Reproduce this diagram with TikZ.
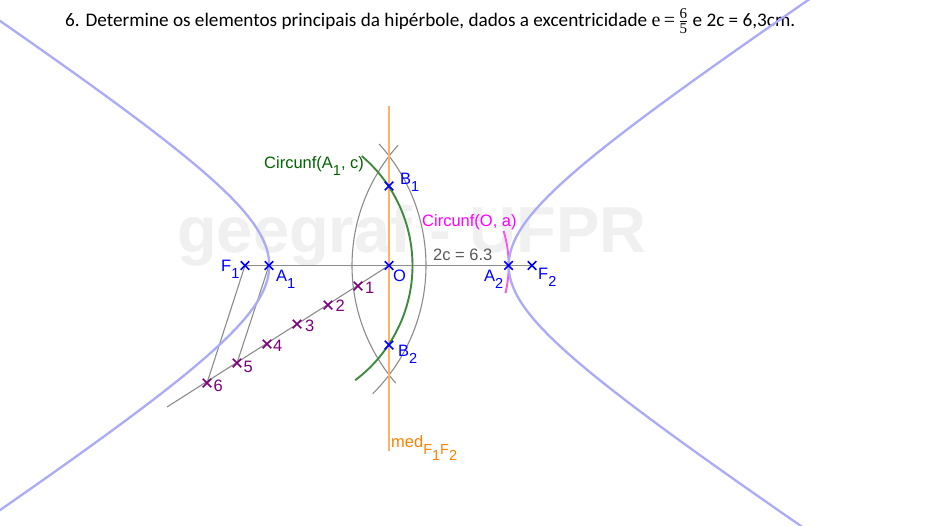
\documentclass[tikz,border=0pt]{standalone}
\usepackage{fontspec}
\setmainfont{Carlito}
\newfontfamily\geo{Liberation Sans}
\newfontfamily\mth{Liberation Serif}
\usetikzlibrary{shapes.misc}
\definecolor{hypc}{HTML}{ABABF7}
\definecolor{orangec}{HTML}{FFB266}
\definecolor{orangetx}{HTML}{FF8000}
\definecolor{greenc}{HTML}{3F8A3F}
\definecolor{greentx}{HTML}{006400}
\definecolor{grayc}{HTML}{8C8C8C}
\definecolor{purplec}{HTML}{7F007F}
\definecolor{markc}{HTML}{F0F0F0}
\definecolor{magtx}{HTML}{FF00FF}
\definecolor{magln}{HTML}{FF55EE}
\newcommand{\lsub}[1]{\raisebox{-0.43em}{\fontsize{14.5}{14.5}\selectfont #1}}
\newcommand{\fracdig}[1]{\mbox{\mth\fontsize{15}{15}\selectfont\rule[-2pt]{0pt}{12pt}#1}}
\tikzset{
 ptblue/.style={cross out,draw=blue,line width=1.6pt,minimum size=8.5pt,inner sep=0pt,outer sep=0pt},
 ptpurple/.style={cross out,draw=purplec,line width=1.5pt,minimum size=8.5pt,inner sep=0pt,outer sep=0pt},
 lbl/.style={font=\geo\fontsize{16.5}{16.5}\selectfont,inner sep=0pt,anchor=base west},
 lblblue/.style={lbl,text=blue},
 lblpurple/.style={lbl,text=purplec},
 hyp/.style={hypc,line width=2.3pt,smooth},
 garc/.style={grayc,line width=1.1pt,smooth},
 gline/.style={grayc,line width=1.1pt},
}
\begin{document}
\begin{tikzpicture}[x=1pt,y=-1pt]
\useasboundingbox (0,0) rectangle (950,525);
\clip (0,0) rectangle (950,525);
\fill[white] (0,0) rectangle (950,525);
% watermark
\node[font=\geo\bfseries\fontsize{65}{65}\selectfont,text=markc,inner sep=0pt,anchor=base west] (wm) at (177,252) {geegraf - UFPR};
% title
\node[font=\fontsize{19.2}{20}\selectfont,inner sep=0pt,anchor=base west] (title) at (65,26) {6. Determine os elementos principais da hipérbole, dados a excentricidade {\mth\fontsize{20}{20}\selectfont e\,=\,}\raisebox{-0.02em}{${\fracdig{6}\above0.5pt\fracdig{5}}$} e 2c = 6,3cm.};
% points
\coordinate (F1) at (245,265.5);
\coordinate (A1) at (269,265.5);
\coordinate (O) at (389,265.5);
\coordinate (A2) at (508.5,265.5);
\coordinate (F2) at (532,265.5);
\coordinate (B1) at (389,186);
\coordinate (B2) at (389,345);
\coordinate (P1) at (358,286);
\coordinate (P2) at (328,305);
\coordinate (P3) at (297,324);
\coordinate (P4) at (267,344);
\coordinate (P5) at (237,363);
\coordinate (P6) at (207,383);
\coordinate (Oend) at (167,407);
\coordinate (medT) at (389,106);
\coordinate (medB) at (389,451);
% lines
\draw[gline] (F1) -- (F2);
\draw[gline] (O) -- (Oend);
\draw[gline] (F1) -- (P6);
\draw[gline] (A1) -- (P5);
% arcs
\draw[garc] plot[domain=139.2:222,samples=50,variable=\a] ({532+180*cos(\a)},{265.5+180*sin(\a)});
\draw[garc] plot[domain=-42.2:45.1,samples=50,variable=\a] ({245+181*cos(\a)},{265.5+181*sin(\a)});
\draw[orangec,line width=2.4pt] (medT) -- (medB);
\draw[greenc,line width=1.9pt,smooth] plot[domain=-49.7:53.1,samples=50,variable=\a] ({269+143.5*cos(\a)},{265.5+143.5*sin(\a)});
\draw[magln,line width=1.9pt,smooth] plot[domain=-16.8:13.3,samples=20,variable=\a] ({389+119.7*cos(\a)},{265.5+119.7*sin(\a)});
% hyperbola
\draw[hyp] plot[domain=-2:2,samples=100,variable=\t] ({389+119.7*0.5*(exp(\t)+exp(-\t))},{265.5+79.1*0.5*(exp(\t)-exp(-\t))});
\draw[hyp] plot[domain=-2:2,samples=100,variable=\t] ({389-119.7*0.5*(exp(\t)+exp(-\t))},{265.5+79.1*0.5*(exp(\t)-exp(-\t))});
% marks above lines
\foreach \p in {F1,A1,O,A2,F2,B1,B2} \node[ptblue] (m\p) at (\p) {};
\foreach \p in {P1,P2,P3,P4,P5,P6} \node[ptpurple] (m\p) at (\p) {};
% labels
\node[lblblue] (lF1) at (221,271) {F\lsub{1}};
\node[lblblue] (lA1) at (276,281) {A\lsub{1}};
\node[lblblue] (lO) at (393,281) {O};
\node[lblblue] (lA2) at (484,281) {A\lsub{2}};
\node[lblblue] (lF2) at (538,279) {F\lsub{2}};
\node[lblblue] (lB1) at (400,184) {B\lsub{1}};
\node[lblblue] (lB2) at (398,356) {B\lsub{2}};
\node[lblpurple] (l1) at (365,293) {1};
\node[lblpurple] (l2) at (335.5,311) {2};
\node[lblpurple] (l3) at (305,331) {3};
\node[lblpurple] (l4) at (273,351) {4};
\node[lblpurple] (l5) at (243.5,372) {5};
\node[lblpurple] (l6) at (213.5,391) {6};
\node[lbl,text=greentx] (lgreen) at (264,168) {Circunf(A\lsub{1}, c)};
\node[lbl,text=magtx] (lmag) at (422,226) {Circunf(O, a)};
\node[lbl,text=black!65] (l2c) at (433,260) {2c = 6.3};
\node[lbl,text=orangetx] (lmed) at (391,447) {med\lsub{F\lsub{1}F\lsub{2}}};
\end{tikzpicture}
\end{document}
